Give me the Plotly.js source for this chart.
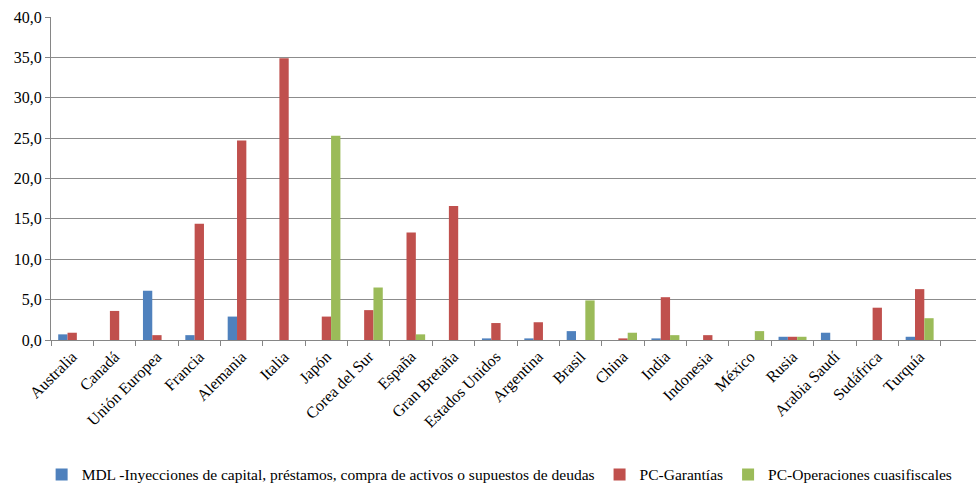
<!DOCTYPE html>
<html>
<head>
<meta charset="utf-8">
<script src="https://cdn.plot.ly/plotly-3.0.1.min.js"></script>
<style>
  html, body { margin: 0; padding: 0; background: #ffffff; }
  #chart { width: 976px; height: 484px; }
</style>
</head>
<body>
<div id="chart"></div>
<script>
// Países del G20 (más la Unión Europea)
const countries = [
  'Australia', 'Canadá', 'Unión Europea', 'Francia', 'Alemania', 'Italia', 'Japón',
  'Corea del Sur', 'España', 'Gran Bretaña', 'Estados Unidos', 'Argentina', 'Brasil',
  'China', 'India', 'Indonesia', 'México', 'Rusia', 'Arabia Saudí', 'Sudáfrica', 'Turquía'
];

// MDL - Inyecciones de capital, préstamos, compra de activos o supuestos de deudas
const mdlValues = [0.7, 0, 6.1, 0.6, 2.9, 0, 0, 0, 0, 0, 0.2, 0.2, 1.1, 0, 0.2, 0, 0, 0.4, 0.9, 0, 0.4];
// PC - Garantías
const garantiasValues = [0.9, 3.6, 0.6, 14.4, 24.7, 34.9, 2.9, 3.7, 13.3, 16.6, 2.1, 2.2, 0, 0.2, 5.3, 0.6, 0, 0.4, 0, 4.0, 6.3];
// PC - Operaciones cuasifiscales
const cuasifiscalesValues = [0, 0, 0, 0, 0, 0, 25.3, 6.5, 0.7, 0, 0, 0, 4.9, 0.9, 0.6, 0, 1.1, 0.4, 0, 0, 2.7];

const seriesNames = [
  'MDL -Inyecciones de capital, préstamos, compra de activos o supuestos de deudas',
  'PC-Garantías',
  'PC-Operaciones cuasifiscales'
];
const seriesColors = ['#4F81BD', '#C0504D', '#9BBB59'];
const yTickValues = [0, 5, 10, 15, 20, 25, 30, 35, 40];

const serif = '"Liberation Serif", "Times New Roman", serif';

const traces = [mdlValues, garantiasValues, cuasifiscalesValues].map((vals, i) => ({
  type: 'bar',
  name: seriesNames[i],
  x: countries,
  y: vals,
  marker: { color: seriesColors[i], line: { width: 0 } },
  hoverinfo: 'x+y+name'
}));

const layout = {
  width: 976,
  height: 484,
  margin: { l: 51, r: 0, t: 17, b: 144, autoexpand: false },
  paper_bgcolor: '#ffffff',
  plot_bgcolor: '#ffffff',
  barmode: 'group',
  bargap: 0.34,
  bargroupgap: 0,
  separators: ',.',
  font: { family: serif, size: 16, color: '#000000' },
  xaxis: {
    type: 'category',
    range: [-0.5, 21.33],
    automargin: false,
    tickangle: -45,
    tickson: 'boundaries',
    ticks: 'outside',
    ticklen: 5,
    tickcolor: '#868686',
    showline: true,
    linecolor: '#868686',
    linewidth: 1,
    showgrid: false,
    zeroline: false,
    tickfont: { family: serif, size: 16, color: '#000000' }
  },
  yaxis: {
    range: [0, 40],
    automargin: false,
    tickvals: yTickValues,
    tickformat: '.1f',
    ticks: 'outside',
    ticklen: 5,
    tickcolor: '#868686',
    showline: true,
    linecolor: '#868686',
    linewidth: 1,
    showgrid: true,
    gridcolor: '#8c8c8c',
    gridwidth: 1,
    zeroline: false,
    tickfont: { family: serif, size: 16, color: '#000000' }
  },
  showlegend: true,
  legend: {
    orientation: 'h',
    x: 0.485,
    xanchor: 'center',
    yref: 'container',
    y: 0.019,
    yanchor: 'middle',
    font: { family: serif, size: 15.5, color: '#000000' },
    itemwidth: 30,
    tracegroupgap: 0,
    bgcolor: 'rgba(0,0,0,0)'
  }
};

Plotly.newPlot('chart', traces, layout, { displayModeBar: false, staticPlot: true });
</script>
</body>
</html>
